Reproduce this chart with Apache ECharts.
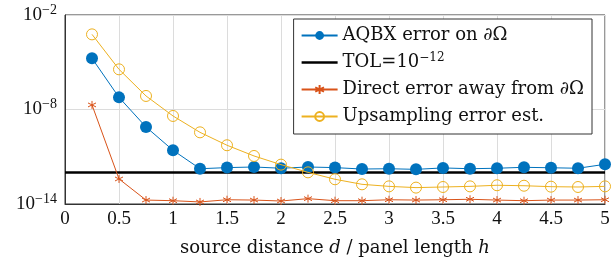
<!DOCTYPE html>
<html>
<head>
<meta charset="utf-8">
<script src="https://cdn.jsdelivr.net/npm/echarts@6/dist/echarts.min.js"></script>
<style>
    html, body { margin: 0; padding: 0; background: #fff; }
    #main { width: 616px; height: 268px; }
</style>
</head>
<body>
<div id="main"></div>
<script>
// distances d/h
var dist = [0.25, 0.5, 0.75, 1, 1.25, 1.5, 1.75, 2, 2.25, 2.5, 2.75, 3, 3.25, 3.5, 3.75, 4, 4.25, 4.5, 4.75, 5];
// log10 of errors
var aqbxExp = [-4.75, -7.23, -9.11, -10.59, -11.76, -11.69, -11.65, -11.73, -11.65, -11.69, -11.78, -11.76, -11.80, -11.71, -11.76, -11.73, -11.67, -11.70, -11.73, -11.48];
var directExp = [-7.71, -12.41, -13.75, -13.79, -13.87, -13.73, -13.75, -13.81, -13.66, -13.79, -13.79, -13.73, -13.75, -13.73, -13.70, -13.75, -13.79, -13.75, -13.75, -13.73];
var upsExp = [-3.23, -5.45, -7.14, -8.41, -9.45, -10.27, -10.95, -11.50, -11.99, -12.43, -12.75, -12.88, -12.96, -12.92, -12.88, -12.81, -12.84, -12.90, -12.92, -12.88];
var tolValue = 1e-12;
var xTicks = [0, 5, 0.5];
var yTicks = [1e-14, 1e-2];

var serif = 'Liberation Serif';
var wideSerif = 'DejaVu Serif';
var supStyle = { fontFamily: serif, fontSize: 14, color: '#111', padding: [0, 0, 10, 0] };

function pairs(exps) {
    var out = [];
    for (var i = 0; i < dist.length; i++) {
        out.push([dist[i], Math.pow(10, exps[i])]);
    }
    return out;
}

var asterisk = 'path://M0,-10L0,10M-8.66,-5L8.66,5M-8.66,5L8.66,-5';

var myChart = echarts.init(document.getElementById('main'), null, { renderer: 'canvas' });
var option = {
    animation: false,
    backgroundColor: '#fff',
    grid: {
        left: 65, right: 11, top: 15, bottom: 64,
        show: true, borderColor: '#333', borderWidth: 1
    },
    legend: {
        orient: 'vertical',
        right: 24, top: 19,
        padding: [6, 8, 7, 7],
        itemWidth: 36, itemHeight: 11, itemGap: 6,
        backgroundColor: '#fff',
        borderColor: '#333', borderWidth: 1, borderRadius: 0,
        textStyle: {
            fontFamily: wideSerif, fontSize: 18, color: '#111', lineHeight: 21,
            rich: {
                sup: { fontFamily: wideSerif, fontSize: 12, color: '#111', padding: [0, 0, 9, 0] },
                n: { fontFamily: wideSerif, fontSize: 18, color: '#111', lineHeight: 21 }
            }
        },
        formatter: function(name) {
            if (name.indexOf('TOL') === 0) return '{n|TOL=10}{sup|−12}';
            return '{n|' + name + '}';
        },
        data: [
            'AQBX error on ∂Ω',
            { name: 'TOL', icon: 'path://M0,0L36,0L36,2.5L0,2.5Z', itemStyle: { color: '#000' } },
            'Direct error away from ∂Ω',
            'Upsampling error est.'
        ]
    },
    xAxis: {
        type: 'value',
        min: xTicks[0], max: xTicks[1], interval: xTicks[2],
        axisLine: { show: true, onZero: false, lineStyle: { color: '#333' } },
        axisTick: { show: false },
        splitLine: { show: true, lineStyle: { color: '#dcdcdc' } },
        axisLabel: { fontFamily: serif, fontSize: 19, color: '#111', margin: 6 },
        name: 'source distance {i|d} / panel length {i|h}',
        nameLocation: 'middle',
        nameGap: 35,
        nameTextStyle: {
            fontFamily: wideSerif, fontSize: 18, color: '#111',
            rich: { i: { fontFamily: wideSerif, fontSize: 18, fontStyle: 'italic', color: '#111' } }
        }
    },
    yAxis: {
        type: 'log',
        logBase: 10,
        min: yTicks[0], max: yTicks[1], interval: 6,
        axisLine: { show: true, lineStyle: { color: '#333' } },
        axisTick: { show: false },
        splitLine: { show: true, lineStyle: { color: '#dcdcdc' } },
        axisLabel: {
            fontFamily: serif, fontSize: 19, color: '#111', margin: 8,
            formatter: function(v) {
                var e = Math.round(Math.log(v) / Math.LN10);
                return '{n|10}{sup|' + (e < 0 ? '−' + (-e) : e) + '}';
            },
            rich: { n: { fontFamily: serif, fontSize: 19, color: '#111' }, sup: supStyle }
        }
    },
    series: [{
        name: 'AQBX error on ∂Ω',
        type: 'line',
        data: pairs(aqbxExp),
        symbol: 'circle', symbolSize: 12,
        itemStyle: { color: '#0072BD' },
        lineStyle: { color: '#0072BD', width: 1 },
        z: 4
    }, {
        name: 'TOL',
        type: 'line',
        data: [[xTicks[0], tolValue], [xTicks[1], tolValue]],
        symbol: 'none',
        itemStyle: { color: '#000' },
        lineStyle: { color: '#000', width: 2.5 },
        z: 3
    }, {
        name: 'Direct error away from ∂Ω',
        type: 'line',
        data: pairs(directExp),
        symbol: asterisk, symbolSize: 8,
        itemStyle: { color: '#D95319', borderColor: '#D95319', borderWidth: 1 },
        lineStyle: { color: '#D95319', width: 1 },
        z: 5
    }, {
        name: 'Upsampling error est.',
        type: 'line',
        data: pairs(upsExp),
        symbol: 'circle', symbolSize: 11,
        itemStyle: { color: 'rgba(255,255,255,0)', borderColor: '#EDB120', borderWidth: 1 },
        lineStyle: { color: '#EDB120', width: 1 },
        z: 6
    }]
};
myChart.setOption(option);
</script>
</body>
</html>
